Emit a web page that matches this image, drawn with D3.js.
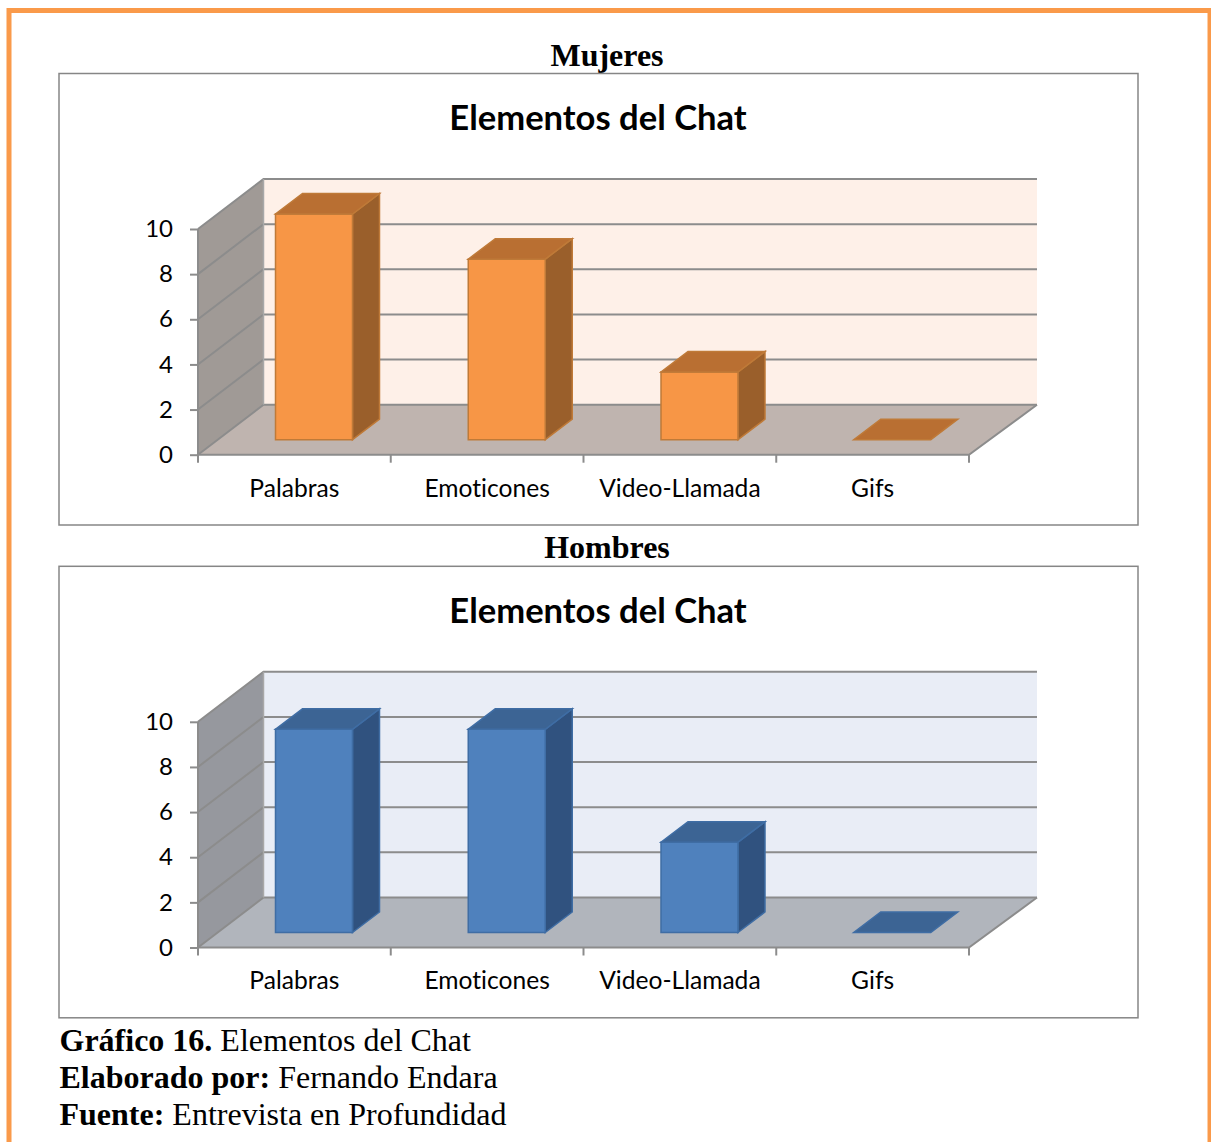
<!DOCTYPE html>
<html>
<head>
<meta charset="utf-8">
<script src="https://cdn.jsdelivr.net/npm/d3@7"></script>
<style>
  html, body { margin: 0; padding: 0; background: #fff; overflow: hidden; }
  text { fill: #000; }
  .serif { font-family: "Liberation Serif", serif; }
  .sans { font-family: Lato, sans-serif; font-variant-ligatures: none; }
</style>
</head>
<body>
<div id="chart"></div>
<script>
// Values
const categories = ["Palabras", "Emoticones", "Video-Llamada", "Gifs"];
const mujeres = [10, 8, 3, 0];
const hombres = [9, 9, 4, 0];
const yTicks = [0, 2, 4, 6, 8, 10];
const chartTitle = "Elementos del Chat";

const svg = d3.select("#chart").append("svg")
    .attr("width", 1211)
    .attr("height", 1142);

// page border, runs off the bottom of the picture
svg.append("rect")
    .attr("x", 9).attr("y", 10.5)
    .attr("width", 1201).attr("height", 1200)
    .attr("fill", "none")
    .attr("stroke", "#fa9a4a")
    .attr("stroke-width", 5);

const x = d3.scaleBand().domain(categories).range([198, 969]);
const y = d3.scaleLinear().domain([0, 10]).range([0, -225.7]);

// depth of the 3d box, the right side leans a little more
const depthX = 65.5, depthXRight = 68, depthY = -50;
const barStart = -15, barDepthX = 27, barDepthY = -20.5;
const barInset = 77.5, barWidth = 77;
const gridColor = "#8c8c8c";

function poly(g, pts, fill, stroke) {
    g.append("polygon")
        .attr("points", pts.map(p => p.join(",")).join(" "))
        .attr("fill", fill)
        .attr("stroke", stroke || "none")
        .attr("stroke-width", stroke ? 1.5 : 0);
}

function drawChart(top, heading, values, c) {
    const g = svg.append("g").attr("transform", "translate(0," + top + ")");

    g.append("text").attr("class", "serif")
        .attr("x", 607).attr("y", -8)
        .attr("text-anchor", "middle")
        .attr("font-size", 32).attr("font-weight", "bold")
        .text(heading);

    g.append("rect")
        .attr("x", 59).attr("y", 0)
        .attr("width", 1079).attr("height", 451.5)
        .attr("fill", "#fff")
        .attr("stroke", "#868686").attr("stroke-width", 1.5);

    g.append("text").attr("class", "sans")
        .attr("x", 598).attr("y", 56.5)
        .attr("text-anchor", "middle")
        .attr("font-size", 34.6).attr("font-weight", "bold")
        .text(chartTitle);

    const plot = g.append("g").attr("transform", "translate(0,381.2)");
    const x0 = x.range()[0], x1 = x.range()[1];
    const top10 = y(10);
    const backL = x0 + depthX, backR = x1 + depthXRight;

    // back wall, side wall, floor
    poly(plot, [[backL, depthY], [backR, depthY], [backR, depthY + top10], [backL, depthY + top10]], c.back);
    poly(plot, [[x0, 0], [backL, depthY], [backL, depthY + top10], [x0, top10]], c.wall);
    poly(plot, [[x0, 0], [x1, 0], [backR, depthY], [backL, depthY]], c.floor);

    // gridlines
    yTicks.forEach(t => {
        plot.append("path")
            .attr("d", d3.line()([[x0, y(t)], [backL, y(t) + depthY], [backR, y(t) + depthY]]))
            .attr("fill", "none")
            .attr("stroke", gridColor)
            .attr("stroke-width", 2);
    });
    plot.append("path")
        .attr("d", d3.line()([[x0, top10], [x0, 0], [x1, 0], [backR, depthY]]))
        .attr("fill", "none").attr("stroke", gridColor).attr("stroke-width", 2);
    plot.append("path")
        .attr("d", d3.line()([[backL, top10 + depthY], [backL, depthY]]))
        .attr("fill", "none").attr("stroke", "#a8a8a8").attr("stroke-width", 1.5);

    // bars
    categories.forEach((cat, i) => {
        const l = x(cat) + barInset, r = l + barWidth;
        const b = barStart, t = barStart + y(values[i]);
        const dx = barDepthX, dy = barDepthY;
        const bar = plot.append("g");
        if (values[i] > 0) {
            poly(bar, [[r, b], [r + dx, b + dy], [r + dx, t + dy], [r, t]], c.side, c.edge);
            poly(bar, [[l, b], [r, b], [r, t], [l, t]], c.bar, c.edge);
        }
        poly(bar, [[l, t], [r, t], [r + dx, t + dy], [l + dx, t + dy]], c.top, c.edge);
    });

    // axes
    const yAxis = d3.axisLeft(y).tickValues(yTicks).tickSize(8).tickPadding(17);
    const ya = plot.append("g").attr("transform", "translate(" + x0 + ",0)").call(yAxis);
    ya.select(".domain").remove();
    ya.selectAll("line").attr("stroke", gridColor).attr("stroke-width", 2);
    ya.selectAll("text").attr("class", "sans").attr("font-size", 24).attr("fill", "#000");

    const xAxis = d3.axisBottom(x).tickSize(0).tickPadding(24.5);
    const xa = plot.append("g").call(xAxis);
    xa.select(".domain").remove();
    xa.selectAll("text").attr("class", "sans").attr("font-size", 24.6).attr("fill", "#000");

    // category ticks sit between the bands
    x.domain().concat([null]).forEach(cat => {
        const px = cat === null ? x1 : x(cat);
        plot.append("line")
            .attr("x1", px).attr("x2", px).attr("y1", 0).attr("y2", 8)
            .attr("stroke", gridColor).attr("stroke-width", 2);
    });
}

drawChart(73.5, "Mujeres", mujeres, {
    back: "#fef0e8", wall: "#a09a96", floor: "#bfb4af",
    bar: "#f79646", top: "#b96f32", side: "#9a5f2b", edge: "#bf7a38"
});
drawChart(566.3, "Hombres", hombres, {
    back: "#e9edf6", wall: "#96989e", floor: "#b1b5bc",
    bar: "#4f81bd", top: "#3c6494", side: "#30527f", edge: "#3f6da4"
});

// caption
const captions = [
    ["Gráfico 16.", " Elementos del Chat"],
    ["Elaborado por:", " Fernando Endara"],
    ["Fuente:", " Entrevista en Profundidad"]
];
captions.forEach((line, i) => {
    const t = svg.append("text").attr("class", "serif")
        .attr("x", 59.5).attr("y", 1051 + i * 37)
        .attr("font-size", 32)
        .attr("xml:space", "preserve");
    t.append("tspan").attr("font-weight", "bold").text(line[0]);
    t.append("tspan").text(line[1]);
});
</script>
</body>
</html>
